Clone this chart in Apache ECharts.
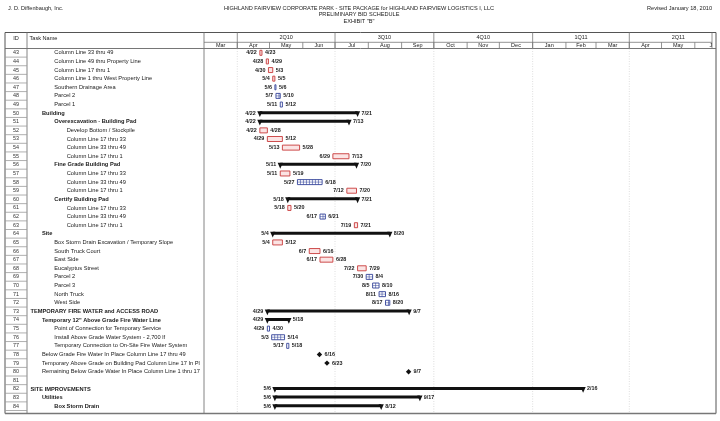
<!DOCTYPE html>
<html><head><meta charset="utf-8">
<script src="https://cdn.jsdelivr.net/npm/echarts@6/dist/echarts.min.js"></script>
<style>html,body{margin:0;padding:0;background:#fff}#c{width:720px;height:421px}</style>
</head><body><div id="c"></div>
<script>
// ---------- DATA ----------
const taskIds = [43,44,45,46,47,48,49,50,51,52,53,54,55,56,57,58,59,60,61,62,63,64,65,66,67,68,69,70,71,72,73,74,75,76,77,78,79,80,81,82,83,84];
const taskNames = [
  'Column Line 33 thru 49','Column Line 49 thru Property Line','Column Line 17 thru 1','Column Line 1 thru West Property Line',
  'Southern Drainage Area','Parcel 2','Parcel 1','Building','Overexcavation - Building Pad','Develop Bottom / Stockpile',
  'Column Line 17 thru 33','Column Line 33 thru 49','Column Line 17 thru 1','Fine Grade Building Pad','Column Line 17 thru 33',
  'Column Line 33 thru 49','Column Line 17 thru 1','Certify Building Pad','Column Line 17 thru 33','Column Line 33 thru 49',
  'Column Line 17 thru 1','Site','Box Storm Drain Excavation / Temporary Slope','South Truck Court','East Side','Eucalyptus Street',
  'Parcel 2','Parcel 3','North Truck','West Side','TEMPORARY FIRE WATER and ACCESS ROAD','Temporary 12" Above Grade Fire Water Line',
  'Point of Connection for Temporary Service','Install Above Grade Water System - 2,700 lf','Temporary Connection to On-Site Fire Water System',
  'Below Grade Fire Water In Place Column Line 17 thru 49','Temporary Above Grade on Building Pad Column Line 17 In Place',
  'Remaining Below Grade Water In Place Column Line 1 thru 17','','SITE IMPROVEMENTS','Utilities','Box Storm Drain'
];
const taskLevels = [2,2,2,2,2,2,2,1,2,3,3,3,3,2,3,3,3,2,3,3,3,1,2,2,2,2,2,2,2,2,0,1,2,2,2,1,1,1,0,0,1,2];
const taskKinds = ['task','task','task','task','hatch','hatch','hatch','summary','summary','task','task','task','task','summary','task',
  'hatch','task','summary','task','hatch','task','summary','task','task','task','task','hatch','hatch','hatch','hatch','summary','summary',
  'hatch','hatch','hatch','milestone','milestone','milestone','','summary','summary','summary'];
const taskStarts = ['2010-04-22','2010-04-28','2010-04-30','2010-05-04','2010-05-06','2010-05-07','2010-05-11','2010-04-22','2010-04-22','2010-04-22',
  '2010-04-29','2010-05-13','2010-06-29','2010-05-11','2010-05-11','2010-05-27','2010-07-12','2010-05-18','2010-05-18','2010-06-17',
  '2010-07-19','2010-05-04','2010-05-04','2010-06-07','2010-06-17','2010-07-22','2010-07-30','2010-08-05','2010-08-11','2010-08-17',
  '2010-04-29','2010-04-29','2010-04-29','2010-05-03','2010-05-17','2010-06-16','2010-06-23','2010-09-07','','2010-05-06','2010-05-06','2010-05-06'];
const taskEnds = ['2010-04-23','2010-04-29','2010-05-03','2010-05-05','2010-05-06','2010-05-10','2010-05-12','2010-07-21','2010-07-13','2010-04-28',
  '2010-05-12','2010-05-28','2010-07-13','2010-07-20','2010-05-19','2010-06-18','2010-07-20','2010-07-21','2010-05-20','2010-06-21',
  '2010-07-21','2010-08-20','2010-05-12','2010-06-16','2010-06-28','2010-07-29','2010-08-04','2010-08-10','2010-08-16','2010-08-20',
  '2010-09-07','2010-05-18','2010-04-30','2010-05-14','2010-05-18','2010-06-16','2010-06-23','2010-09-07','','2011-02-16','2010-09-17','2010-08-12'];
const monthLabels = ['Mar','Apr','May','Jun','Jul','Aug','Sep','Oct','Nov','Dec','Jan','Feb','Mar','Apr','May','J'];
const monthStarts = ['2010-03-01','2010-04-01','2010-05-01','2010-06-01','2010-07-01','2010-08-01','2010-09-01','2010-10-01','2010-11-01','2010-12-01',
  '2011-01-01','2011-02-01','2011-03-01','2011-04-01','2011-05-01','2011-06-01','2011-07-01'];
const quarterLabels = ['1Q10','2Q10','3Q10','4Q10','1Q11','2Q11'];
const quarterStarts = ['2010-01-01','2010-04-01','2010-07-01','2010-10-01','2011-01-01','2011-04-01','2011-07-01'];
const axisStart = '2010-03-01';
const axisEnd = '2011-06-17';

// ---------- HELPERS ----------
const DAY = 86400000;
function ms(s){ const p = s.split('-').map(Number); return new Date(p[0], p[1]-1, p[2]).getTime(); }
function md(s){ const p = s.split('-').map(Number); return p[1] + '/' + p[2]; }
const FF = '"Liberation Sans", Arial, sans-serif';
const minMs = ms(axisStart), maxMs = ms(axisEnd);
const RED = '#c83a3a', BLUE = '#34449a';
const GL = 204, GR = 712, GT = 48.5, GB = 410.5;
const indentX = [30.5, 42, 54.3, 66.7];

function dateText(t, x, y, align){
  return {type:'text', style:{text:t, x:x, y:y, align:align, verticalAlign:'middle', fontSize:5.4, fontFamily:FF, fontWeight:'bold', fill:'#1a1a1a'}};
}

function renderRow(params, api){
  const i = api.value(1);
  const y = api.coord([api.value(0), i])[1];
  const h = api.size([0,1])[1];
  const ch = [
    {type:'text', style:{text:String(taskIds[i]), x:16, y:y, align:'center', verticalAlign:'middle', fontSize:5.4, fontFamily:FF, fill:'#333'}},
    {type:'line', shape:{x1:5, y1:y+h/2, x2:27, y2:y+h/2}, style:{stroke:'#9a9a9a', lineWidth:0.8}}
  ];
  if (taskNames[i]) {
    const x = indentX[taskLevels[i]];
    ch.push({type:'text', style:{text:taskNames[i], x:x, y:y, verticalAlign:'middle', fontSize:5.7, fontFamily:FF,
      fontWeight: taskKinds[i]==='summary' ? 'bold' : 'normal', fill:'#1a1a1a', width: GL - 1 - x, overflow:'truncate', ellipsis:''}});
  }
  return {type:'group', children:ch};
}

function renderBar(params, api){
  const i = api.value(2);
  const kind = taskKinds[i];
  const p0 = api.coord([api.value(0), i]);
  const p1 = api.coord([api.value(1), i]);
  const x0 = p0[0], x1 = p1[0], y = p0[1];
  const ch = [];
  if (kind === 'milestone') {
    const xm = x0, r = 2.7;
    ch.push({type:'polygon', shape:{points:[[xm, y-r],[xm+r, y],[xm, y+r],[xm-r, y]]}, style:{fill:'#111'}});
    ch.push(dateText(md(taskEnds[i]), xm + 5, y, 'left'));
  } else if (kind === 'summary') {
    const top = y - 2;
    ch.push({type:'rect', shape:{x:x0, y:top, width:x1-x0, height:3}, style:{fill:'#111'}});
    ch.push({type:'polygon', shape:{points:[[x0-2.6, top],[x0+2.6, top],[x0, top+5.8]]}, style:{fill:'#111'}});
    ch.push({type:'polygon', shape:{points:[[x1-2.6, top],[x1+2.6, top],[x1, top+5.8]]}, style:{fill:'#111'}});
    ch.push(dateText(md(taskStarts[i]), x0 - 4, y, 'right'));
    ch.push(dateText(md(taskEnds[i]), x1 + 4, y, 'left'));
  } else {
    const hh = 5, top = y - hh/2;
    if (kind === 'task') {
      ch.push({type:'rect', shape:{x:x0, y:top, width:x1-x0, height:hh}, style:{fill:'#fbe4e4', stroke:RED, lineWidth:0.9}});
    } else {
      ch.push({type:'rect', shape:{x:x0, y:top, width:x1-x0, height:hh}, style:{fill:'#ffffff', stroke:BLUE, lineWidth:0.9}});
      for (let x = x0 + 3; x < x1 - 1; x += 3) {
        ch.push({type:'line', shape:{x1:x, y1:top, x2:x, y2:top+hh}, style:{stroke:BLUE, lineWidth:0.6}});
      }
      if (x1 - x0 > 3) ch.push({type:'line', shape:{x1:x0, y1:y, x2:x1, y2:y}, style:{stroke:BLUE, lineWidth:0.5}});
    }
    ch.push(dateText(md(taskStarts[i]), x0 - 3, y, 'right'));
    ch.push(dateText(md(taskEnds[i]), x1 + 3, y, 'left'));
  }
  return {type:'group', children:ch};
}

function cellRenderer(labels, yTop, yBot, yText){
  return function(params, api){
    const i = params.dataIndex;
    let xa = api.coord([api.value(0), 0])[0];
    let xb = api.coord([api.value(1), 0])[0];
    const ch = [];
    if (xa > GL + 0.5 && xa < GR) ch.push({type:'line', shape:{x1:xa, y1:yTop, x2:xa, y2:yBot}, style:{stroke:'#777', lineWidth:0.8}});
    const cx = (xa + xb) / 2;
    const vis = Math.min(xb, GR) - Math.max(xa, GL);
    if (labels[i] && cx > GL && vis > 4) {
      const lx = (cx < GR) ? cx : (Math.max(xa, GL) + Math.min(xb, GR)) / 2 + 4;
      ch.push({type:'text', style:{text:labels[i], x:lx, y:yText, align:'center', verticalAlign:'middle', fontSize:5.5, fontFamily:FF, fill:'#222'}});
    }
    return {type:'group', children:ch};
  };
}

function renderGridLine(params, api){
  const x = api.coord([api.value(0), 0])[0];
  if (x <= GL + 1 || x >= GR) return {type:'group', children:[]};
  return {type:'line', shape:{x1:x, y1:GT, x2:x, y2:GB+2}, style:{stroke:'#c8c8c8', lineWidth:0.6, lineDash:[1,1.5]}};
}

// ---------- CHART ----------
const chart = echarts.init(document.getElementById('c'), null, {renderer:'canvas'});
const rowData = taskIds.map((id, i) => [minMs, i]);
const barData = [];
taskKinds.forEach((k, i) => {
  if (!k) return;
  if (k === 'milestone') barData.push([ms(taskStarts[i]) + DAY*0.5, ms(taskStarts[i]) + DAY*0.5, i]);
  else barData.push([ms(taskStarts[i]), ms(taskEnds[i]) + DAY, i]);
});
const monthData = monthLabels.map((m, i) => [ms(monthStarts[i]), ms(monthStarts[i+1])]);
const quarterData = quarterLabels.map((q, i) => [ms(quarterStarts[i]), ms(quarterStarts[i+1])]);
const gridData = quarterStarts.map(s => [ms(s)]);

const txt = (t, x, y, align, size) => ({type:'text', x:x, y:y, style:{text:t, align:align, verticalAlign:'middle', fontSize:size, fontFamily:FF, fill:'#222'}});

chart.setOption({
  animation:false,
  grid:{left:GL, top:GT, width:GR-GL, height:GB-GT, containLabel:false},
  xAxis:{type:'time', min:minMs, max:maxMs, show:false},
  yAxis:{type:'category', data:taskIds.map(String), inverse:true, show:false},
  graphic:[
    txt('J. D. Diffenbaugh, Inc.', 8, 8, 'left', 5.6),
    txt('HIGHLAND FAIRVIEW CORPORATE PARK - SITE PACKAGE for HIGHLAND FAIRVIEW LOGISTICS I, LLC', 359, 8, 'center', 5.6),
    txt('PRELIMINARY BID SCHEDULE', 359, 14.5, 'center', 5.6),
    txt('EXHIBIT "B"', 359, 21, 'center', 5.6),
    txt('Revised January 18, 2010', 712, 8, 'right', 5.6),
    txt('ID', 16, 38.5, 'center', 5.6),
    txt('Task Name', 29.5, 38.5, 'left', 5.6),
    {type:'rect', shape:{x:5, y:32.5, width:711, height:381}, style:{fill:'none', stroke:'#555', lineWidth:1}},
    {type:'line', shape:{x1:5, y1:413.5, x2:716, y2:413.5}, style:{stroke:'#777', lineWidth:1.6}},
    {type:'line', shape:{x1:5, y1:GT, x2:716, y2:GT}, style:{stroke:'#666', lineWidth:0.9}},
    {type:'line', shape:{x1:GL, y1:42.3, x2:GR, y2:42.3}, style:{stroke:'#777', lineWidth:0.8}},
    {type:'line', shape:{x1:27, y1:32.5, x2:27, y2:413.5}, style:{stroke:'#777', lineWidth:0.9}},
    {type:'line', shape:{x1:GL, y1:32.5, x2:GL, y2:413.5}, style:{stroke:'#777', lineWidth:0.9}},
    {type:'line', shape:{x1:GR, y1:32.5, x2:GR, y2:GT}, style:{stroke:'#777', lineWidth:0.8}}
  ],
  series:[
    {type:'custom', name:'grid', data:gridData, encode:{x:0}, renderItem:renderGridLine, silent:true, z:1},
    {type:'custom', name:'quarters', data:quarterData, encode:{x:[0,1]}, renderItem:cellRenderer(quarterLabels, 32.5, GT, 37.6), silent:true, z:2},
    {type:'custom', name:'months', data:monthData, encode:{x:[0,1]}, renderItem:cellRenderer(monthLabels, 42.3, GT, 45.5), silent:true, z:2},
    {type:'custom', name:'table', data:rowData, encode:{x:0, y:1}, renderItem:renderRow, silent:true, z:3},
    {type:'custom', name:'bars', data:barData, encode:{x:[0,1], y:2}, renderItem:renderBar, silent:true, z:4}
  ]
});
</script>
</body></html>
